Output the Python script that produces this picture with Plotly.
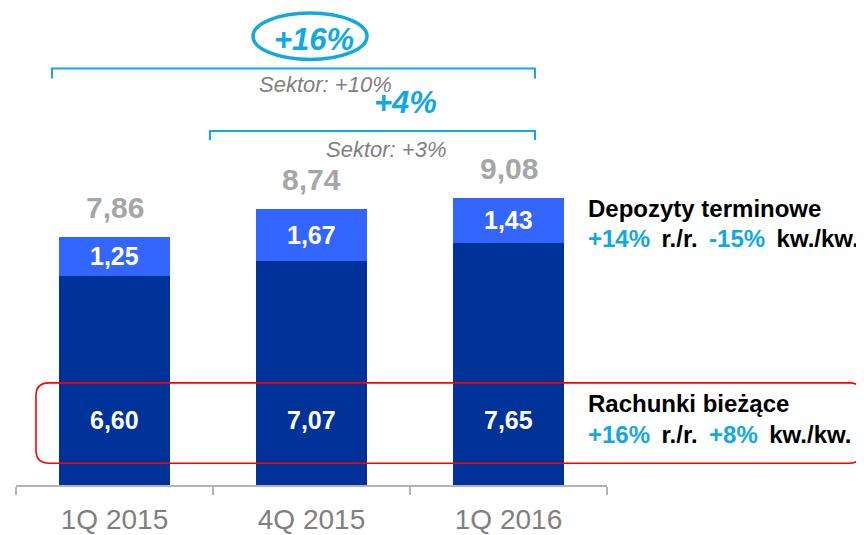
import plotly.graph_objects as go

# ---- data ----
categories = ["1Q 2015", "4Q 2015", "1Q 2016"]
rachunki = [6.60, 7.07, 7.65]      # Rachunki bieżące
depozyty = [1.25, 1.67, 1.43]      # Depozyty terminowe
totals = [7.86, 8.74, 9.08]

growth_total = "+16%"
growth_qoq = "+4%"
sektor_total = "Sektor: +10%"
sektor_qoq = "Sektor: +3%"

# ---- layout helpers ----
# the page body adds an 8px margin, so the figure is 8px smaller and
# reference pixel positions are shifted by 8px
OFF = 8
W, H = 864 - OFF, 535 - OFF
L = 16 - OFF
R = W - (607 - OFF)
T = 0
AXIS_Y = 489 - OFF
B = H - AXIS_Y
PW = W - L - R
PH = H - T - B
PX_PER_UNIT = 31.9
YMAX = PH / PX_PER_UNIT


def px(x):
    return (x - OFF - L) / PW


def py(y):
    return (AXIS_Y - (y - OFF)) / PH


def fmt(v):
    return f"{v:.2f}".replace(".", ",")


DARK = "#003399"
LIGHT = "#3366FF"
CYAN = "#12A8E2"
GRAY_T = "#A6A6A6"
GRAY_S = "#808080"
FONT = "Liberation Sans, Arial, sans-serif"
SP = "\u2009 "

fig = go.Figure()
fig.add_trace(go.Bar(x=categories, y=rachunki, marker_color=DARK,
                     marker_line_width=0, name="Rachunki bieżące",
                     hoverinfo="skip"))
fig.add_trace(go.Bar(x=categories, y=depozyty, marker_color=LIGHT,
                     marker_line_width=0, name="Depozyty terminowe",
                     hoverinfo="skip"))

ann = []
for i, (r, d, t) in enumerate(zip(rachunki, depozyty, totals)):
    ann.append(dict(x=i, y=0, xref="x", yref="y", yshift=65,
                    xanchor="center", yanchor="middle",
                    text=f"<b>{fmt(r)}</b>", showarrow=False,
                    font=dict(size=25, color="white", family=FONT)))
    ann.append(dict(x=i, y=r + d / 2, xref="x", yref="y",
                    xanchor="center", yanchor="middle",
                    text=f"<b>{fmt(d)}</b>", showarrow=False,
                    font=dict(size=25, color="white", family=FONT)))
    ann.append(dict(x=i, y=t, xref="x", yref="y", yshift=29,
                    xanchor="center", yanchor="middle",
                    text=f"<b>{fmt(t)}</b>", showarrow=False,
                    font=dict(size=30, color=GRAY_T, family=FONT)))


def txt(x, y, text, size, color, xanchor="center"):
    return dict(x=px(x), y=py(y), xref="paper", yref="paper", showarrow=False,
                xanchor=xanchor, yanchor="middle", text=text,
                font=dict(size=size, color=color, family=FONT))


ann += [
    txt(314, 40, f"<b><i>{growth_total}</i></b>", 31, CYAN),
    txt(325, 85, f"<i>{sektor_total}</i>", 22, GRAY_S),
    txt(405, 103, f"<b><i>{growth_qoq}</i></b>", 31, CYAN),
    txt(386, 151, f"<i>{sektor_qoq}</i>", 22, GRAY_S),
    txt(586, 210, "<b>Depozyty terminowe</b>", 24, "black", "left"),
    txt(586, 240, f"<b><span style='color:{CYAN}'>+14%</span>{SP}r./r.{SP}"
                  f"<span style='color:{CYAN}'>-15%</span>{SP}kw./kw.</b>",
        24, "black", "left"),
    txt(586, 407, "<b>Rachunki bieżące</b>", 24, "black", "left"),
    txt(586, 438, f"<b><span style='color:{CYAN}'>+16%</span>{SP}r./r.{SP}"
                  f"<span style='color:{CYAN}'>+8%</span>{SP}kw./kw.</b>",
        24, "black", "left"),
]


def bracket(x0, x1, ytop, yleg):
    return dict(type="path", xref="paper", yref="paper",
                path=f"M {px(x0)},{py(yleg)} L {px(x0)},{py(ytop)} "
                     f"L {px(x1)},{py(ytop)} L {px(x1)},{py(yleg)}",
                line=dict(color=CYAN, width=2))


def rounded_box(x0p, x1p, ytp, ybp, r):
    x0, x1, yt, yb = px(x0p), px(x1p), py(ytp), py(ybp)
    rx, ry = r / PW, r / PH
    p = (f"M {x0+rx},{yt} L {x1-rx},{yt} Q {x1},{yt} {x1},{yt-ry} "
         f"L {x1},{yb+ry} Q {x1},{yb} {x1-rx},{yb} L {x0+rx},{yb} "
         f"Q {x0},{yb} {x0},{yb+ry} L {x0},{yt-ry} Q {x0},{yt} {x0+rx},{yt} Z")
    return dict(type="path", xref="paper", yref="paper", path=p,
                line=dict(color="#FF0000", width=1.6), layer="above")


shapes = [
    bracket(52, 535, 69, 79),
    bracket(210, 535, 132, 141),
    dict(type="circle", xref="paper", yref="paper",
         x0=px(253), x1=px(367), y0=py(60), y1=py(13),
         line=dict(color=CYAN, width=3.5)),
    rounded_box(36, 862, 386, 467, 13),
]

fig.update_layout(
    width=W, height=H,
    margin=dict(l=L, r=R, t=T, b=B, pad=0),
    barmode="stack", bargap=0.44,
    plot_bgcolor="white", paper_bgcolor="white",
    showlegend=False,
    annotations=ann, shapes=shapes,
    font=dict(family=FONT),
    xaxis=dict(showgrid=False, zeroline=False, showline=True,
               linecolor="#B3B3B3", linewidth=2,
               ticks="outside", tickson="boundaries", ticklen=8,
               tickcolor="#B3B3B3", tickwidth=2,
               tickfont=dict(size=28, color=GRAY_S, family=FONT),
               ticklabelstandoff=8,
               range=[-0.5, 2.5]),
    yaxis=dict(visible=False, range=[0, YMAX], fixedrange=True),
)

fig.write_html("out.html")
